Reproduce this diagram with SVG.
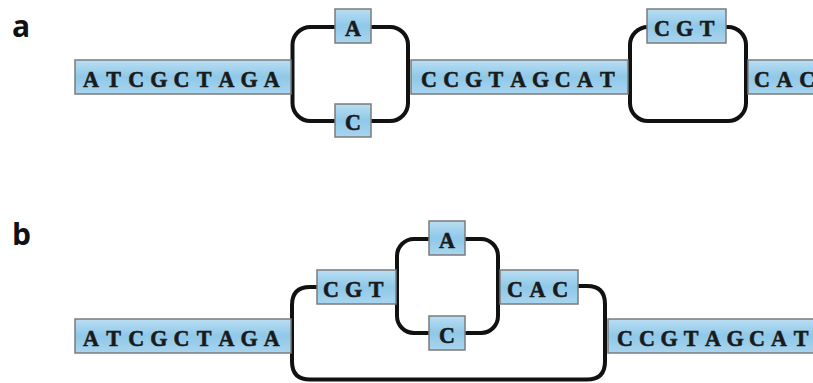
<svg xmlns="http://www.w3.org/2000/svg" width="813" height="383" viewBox="0 0 813 383">
<defs>
<linearGradient id="g" x1="0" y1="0" x2="0" y2="1">
<stop offset="0" stop-color="#b9def3"/>
<stop offset="0.5" stop-color="#8fc8e8"/>
<stop offset="1" stop-color="#a9d5ef"/>
</linearGradient>
<style>
.box{fill:url(#g);stroke:#7b7b7b;stroke-width:1.5}
.seq{font-family:"Liberation Serif",serif;font-weight:bold;font-size:24px;text-anchor:middle;fill:#1a1a1a;stroke:#1a1a1a;stroke-width:0.6}
.lbl{font-family:"Open Sans","DejaVu Sans",sans-serif;font-weight:bold;font-size:30px;fill:#111}
.ln{fill:none;stroke:#111;stroke-width:4;stroke-linejoin:round}
</style>
</defs>
<rect width="813" height="383" fill="#fff"/>
<text class="lbl" x="12" y="37">a</text>
<text class="lbl" x="12" y="245">b</text>
<g id="connectors">
<rect class="ln" x="292.5" y="27" width="115.5" height="94" rx="18"/>
<rect class="ln" x="630" y="27" width="116" height="94" rx="18"/>
<path class="ln" d="M317 287 H310 Q292 287 292 305 V361.5 Q292 379.5 310 379.5 H587 Q605 379.5 605 361.5 V304 Q605 286 587 286 H578"/>
<rect class="ln" x="397" y="239" width="101" height="94" rx="17"/>
</g>
<g id="a-atcgctaga"><rect class="box" x="75" y="60" width="216" height="34"/><text class="seq" transform="scale(0.92 1)" x="98.91 123.48 148.04 172.61 197.17 221.74 246.30 270.87 295.43" y="87">ATCGCTAGA</text></g>
<g id="a-A"><rect class="box" x="335" y="9" width="36" height="34"/><text class="seq" transform="scale(0.92 1)" x="383.70" y="36">A</text></g>
<g id="a-C"><rect class="box" x="335" y="104" width="36" height="33"/><text class="seq" transform="scale(0.92 1)" x="383.70" y="130">C</text></g>
<g id="a-ccgtagcat"><rect class="box" x="411" y="60" width="217" height="34"/><text class="seq" transform="scale(0.92 1)" x="466.30 490.54 514.78 539.02 563.26 587.50 611.74 635.98 660.22" y="87">CCGTAGCAT</text></g>
<g id="a-CGT"><rect class="box" x="647" y="9" width="79" height="34"/><text class="seq" transform="scale(0.92 1)" x="719.57 744.13 768.70" y="36">CGT</text></g>
<g id="a-CAC"><rect class="box" x="748" y="60" width="80" height="34"/><text class="seq" transform="scale(0.92 1)" x="828.26 852.83 877.39" y="87">CAC</text></g>
<g id="b-atcgctaga"><rect class="box" x="75" y="319" width="216" height="34"/><text class="seq" transform="scale(0.92 1)" x="98.91 123.48 148.04 172.61 197.17 221.74 246.30 270.87 295.43" y="346">ATCGCTAGA</text></g>
<g id="b-CGT"><rect class="box" x="317" y="270" width="79" height="34"/><text class="seq" transform="scale(0.92 1)" x="359.78 384.35 408.91" y="297">CGT</text></g>
<g id="b-A"><rect class="box" x="429" y="221" width="36" height="34"/><text class="seq" transform="scale(0.92 1)" x="485.87" y="248">A</text></g>
<g id="b-C"><rect class="box" x="429" y="316" width="36" height="34"/><text class="seq" transform="scale(0.92 1)" x="485.87" y="343">C</text></g>
<g id="b-CAC"><rect class="box" x="500" y="270" width="78" height="34"/><text class="seq" transform="scale(0.92 1)" x="559.78 584.35 608.91" y="297">CAC</text></g>
<g id="b-ccgtagcat"><rect class="box" x="608" y="319" width="220" height="34"/><text class="seq" transform="scale(0.92 1)" x="679.35 703.26 727.17 751.09 775 798.91 822.83 846.74 870.65" y="346">CCGTAGCAT</text></g>
</svg>
